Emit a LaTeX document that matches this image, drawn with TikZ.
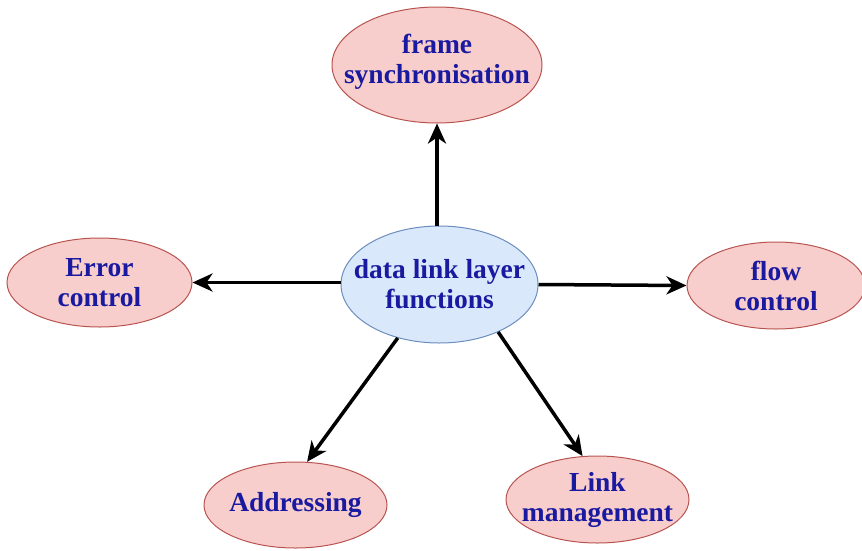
\documentclass[tikz,border=0pt]{standalone}
\usepackage{fontspec}
\setmainfont{Liberation Serif}
\usetikzlibrary{shapes.geometric,arrows.meta}
\definecolor{pinkfill}{HTML}{F8CECC}
\definecolor{pinkline}{HTML}{B85450}
\definecolor{bluefill}{HTML}{DAE8FC}
\definecolor{blueline}{HTML}{6C8EBF}
\definecolor{txtblue}{HTML}{1A1AA0}
\tikzset{
  oval/.style={ellipse, draw=pinkline, fill=pinkfill, line width=1pt, inner sep=0pt},
  hub/.style={oval, draw=blueline, fill=bluefill},
  lbl/.style={align=center, text=txtblue, inner sep=0pt, font=\fontsize{27.5}{30}\selectfont\bfseries},
  arr/.style={-{Stealth[length=20pt,width=18pt,inset=6pt]}, line width=3.5pt, black}
}
\begin{document}
\begin{tikzpicture}[x=1pt,y=-1pt]
\useasboundingbox (0,0) rectangle (862,550);
\node[hub, minimum width=197pt, minimum height=117pt] (c) at (439.5,284.5) {};
\node[lbl] (ct) at (c.center) {data link layer\\functions};
\node[oval, minimum width=210pt, minimum height=116pt] (top) at (437,65) {};
\node[lbl] (topt) at ([yshift=3pt]top.center) {frame\\synchronisation};
\node[oval, minimum width=185pt, minimum height=89pt] (err) at (99.5,282.5) {};
\node[lbl] (errt) at (err.center) {Error\\control};
\node[oval, minimum width=178pt, minimum height=87pt] (flow) at (776,285.5) {};
\node[lbl] (flowt) at (flow.center) {flow\\control};
\node[oval, minimum width=183pt, minimum height=86pt] (addr) at (295.5,505) {};
\node[lbl] (addrt) at (addr.center) {Addressing};
\node[oval, minimum width=183pt, minimum height=87pt] (link) at (597.5,499.5) {};
\node[lbl] (linkt) at (link.center) {Link\\management};
\draw[arr] (top.south |- c.north) -- (top.south);
\draw[arr] (err.east -| c.west) -- (err.east);
\draw[arr] (c.east) -- (flow.west);
\draw[arr] (c.-128.5) -- (addr.75);
\draw[arr] (c.-39) -- (link.109);
\end{tikzpicture}
\end{document}
